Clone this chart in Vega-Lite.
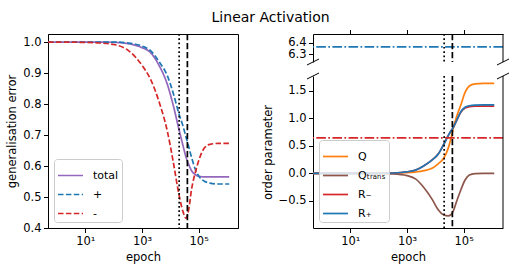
{
  "$schema": "https://vega.github.io/schema/vega-lite/v6.json",
  "padding": {"left": 6, "top": 11, "right": 5, "bottom": 5},
  "title": {"text": "Linear Activation", "fontSize": 14, "fontWeight": "normal", "font": "DejaVu Sans", "color": "black", "anchor": "middle", "dx": 12},
  "datasets": {
    "gen": [
      {"epoch": 0.48, "series": "total", "err": 1.0}, {"epoch": 10, "series": "total", "err": 1.0}, {"epoch": 31.6, "series": "total", "err": 1.0}, {"epoch": 100, "series": "total", "err": 0.999}, {"epoch": 316, "series": "total", "err": 0.995}, {"epoch": 1000, "series": "total", "err": 0.982}, {"epoch": 1995, "series": "total", "err": 0.966}, {"epoch": 3981, "series": "total", "err": 0.925}, {"epoch": 7943, "series": "total", "err": 0.862}, {"epoch": 12589, "series": "total", "err": 0.797}, {"epoch": 19953, "series": "total", "err": 0.72}, {"epoch": 28184, "series": "total", "err": 0.665}, {"epoch": 35481, "series": "total", "err": 0.63}, {"epoch": 44668, "series": "total", "err": 0.605}, {"epoch": 56234, "series": "total", "err": 0.585}, {"epoch": 79433, "series": "total", "err": 0.571}, {"epoch": 112202, "series": "total", "err": 0.566}, {"epoch": 158489, "series": "total", "err": 0.565}, {"epoch": 251189, "series": "total", "err": 0.565}, {"epoch": 501187, "series": "total", "err": 0.565}, {"epoch": 1202264, "series": "total", "err": 0.565},
      {"epoch": 0.48, "series": "+", "err": 1.0}, {"epoch": 10, "series": "+", "err": 1.0}, {"epoch": 31.6, "series": "+", "err": 1.0}, {"epoch": 100, "series": "+", "err": 1.0}, {"epoch": 316, "series": "+", "err": 0.997}, {"epoch": 1000, "series": "+", "err": 0.987}, {"epoch": 1995, "series": "+", "err": 0.972}, {"epoch": 3981, "series": "+", "err": 0.937}, {"epoch": 7943, "series": "+", "err": 0.89}, {"epoch": 12589, "series": "+", "err": 0.836}, {"epoch": 19953, "series": "+", "err": 0.77}, {"epoch": 28184, "series": "+", "err": 0.728}, {"epoch": 35481, "series": "+", "err": 0.695}, {"epoch": 44668, "series": "+", "err": 0.662}, {"epoch": 56234, "series": "+", "err": 0.628}, {"epoch": 79433, "series": "+", "err": 0.585}, {"epoch": 112202, "series": "+", "err": 0.562}, {"epoch": 158489, "series": "+", "err": 0.551}, {"epoch": 251189, "series": "+", "err": 0.545}, {"epoch": 501187, "series": "+", "err": 0.542}, {"epoch": 1202264, "series": "+", "err": 0.542},
      {"epoch": 0.48, "series": "-", "err": 1.0}, {"epoch": 10, "series": "-", "err": 0.999}, {"epoch": 31.6, "series": "-", "err": 0.997}, {"epoch": 100, "series": "-", "err": 0.992}, {"epoch": 316, "series": "-", "err": 0.974}, {"epoch": 1000, "series": "-", "err": 0.925}, {"epoch": 1995, "series": "-", "err": 0.88}, {"epoch": 3981, "series": "-", "err": 0.808}, {"epoch": 7943, "series": "-", "err": 0.71}, {"epoch": 12589, "series": "-", "err": 0.615}, {"epoch": 19953, "series": "-", "err": 0.51}, {"epoch": 28184, "series": "-", "err": 0.452}, {"epoch": 35481, "series": "-", "err": 0.432}, {"epoch": 44668, "series": "-", "err": 0.46}, {"epoch": 56234, "series": "-", "err": 0.525}, {"epoch": 79433, "series": "-", "err": 0.585}, {"epoch": 112202, "series": "-", "err": 0.63}, {"epoch": 158489, "series": "-", "err": 0.658}, {"epoch": 251189, "series": "-", "err": 0.67}, {"epoch": 501187, "series": "-", "err": 0.673}, {"epoch": 1202264, "series": "-", "err": 0.673}
    ],
    "order": [
      {"epoch": 0.48, "series": "Q", "value": 0}, {"epoch": 10, "series": "Q", "value": 0}, {"epoch": 31.6, "series": "Q", "value": 0}, {"epoch": 100, "series": "Q", "value": 0.001}, {"epoch": 316, "series": "Q", "value": 0.003}, {"epoch": 1000, "series": "Q", "value": 0.012}, {"epoch": 1995, "series": "Q", "value": 0.025}, {"epoch": 3981, "series": "Q", "value": 0.05}, {"epoch": 7943, "series": "Q", "value": 0.1}, {"epoch": 12589, "series": "Q", "value": 0.175}, {"epoch": 19953, "series": "Q", "value": 0.28}, {"epoch": 28184, "series": "Q", "value": 0.45}, {"epoch": 35481, "series": "Q", "value": 0.63}, {"epoch": 44668, "series": "Q", "value": 0.85}, {"epoch": 56234, "series": "Q", "value": 1.03}, {"epoch": 79433, "series": "Q", "value": 1.24}, {"epoch": 112202, "series": "Q", "value": 1.47}, {"epoch": 158489, "series": "Q", "value": 1.585}, {"epoch": 251189, "series": "Q", "value": 1.625}, {"epoch": 501187, "series": "Q", "value": 1.635}, {"epoch": 1202264, "series": "Q", "value": 1.635},
      {"epoch": 0.48, "series": "Qₜᵣₐₙₛ", "value": 0}, {"epoch": 10, "series": "Qₜᵣₐₙₛ", "value": 0}, {"epoch": 31.6, "series": "Qₜᵣₐₙₛ", "value": 0}, {"epoch": 100, "series": "Qₜᵣₐₙₛ", "value": -0.003}, {"epoch": 316, "series": "Qₜᵣₐₙₛ", "value": -0.01}, {"epoch": 1000, "series": "Qₜᵣₐₙₛ", "value": -0.04}, {"epoch": 1995, "series": "Qₜᵣₐₙₛ", "value": -0.1}, {"epoch": 3981, "series": "Qₜᵣₐₙₛ", "value": -0.26}, {"epoch": 7943, "series": "Qₜᵣₐₙₛ", "value": -0.48}, {"epoch": 12589, "series": "Qₜᵣₐₙₛ", "value": -0.66}, {"epoch": 19953, "series": "Qₜᵣₐₙₛ", "value": -0.755}, {"epoch": 28184, "series": "Qₜᵣₐₙₛ", "value": -0.77}, {"epoch": 35481, "series": "Qₜᵣₐₙₛ", "value": -0.75}, {"epoch": 44668, "series": "Qₜᵣₐₙₛ", "value": -0.66}, {"epoch": 56234, "series": "Qₜᵣₐₙₛ", "value": -0.51}, {"epoch": 79433, "series": "Qₜᵣₐₙₛ", "value": -0.3}, {"epoch": 112202, "series": "Qₜᵣₐₙₛ", "value": -0.12}, {"epoch": 158489, "series": "Qₜᵣₐₙₛ", "value": -0.03}, {"epoch": 251189, "series": "Qₜᵣₐₙₛ", "value": -0.003}, {"epoch": 501187, "series": "Qₜᵣₐₙₛ", "value": 0}, {"epoch": 1202264, "series": "Qₜᵣₐₙₛ", "value": 0},
      {"epoch": 0.48, "series": "R₋", "value": 0}, {"epoch": 10, "series": "R₋", "value": 0}, {"epoch": 31.6, "series": "R₋", "value": 0}, {"epoch": 100, "series": "R₋", "value": 0.002}, {"epoch": 316, "series": "R₋", "value": 0.008}, {"epoch": 1000, "series": "R₋", "value": 0.03}, {"epoch": 1995, "series": "R₋", "value": 0.06}, {"epoch": 3981, "series": "R₋", "value": 0.14}, {"epoch": 7943, "series": "R₋", "value": 0.25}, {"epoch": 12589, "series": "R₋", "value": 0.35}, {"epoch": 19953, "series": "R₋", "value": 0.53}, {"epoch": 28184, "series": "R₋", "value": 0.68}, {"epoch": 35481, "series": "R₋", "value": 0.77}, {"epoch": 44668, "series": "R₋", "value": 0.85}, {"epoch": 56234, "series": "R₋", "value": 0.955}, {"epoch": 79433, "series": "R₋", "value": 1.11}, {"epoch": 112202, "series": "R₋", "value": 1.185}, {"epoch": 158489, "series": "R₋", "value": 1.21}, {"epoch": 251189, "series": "R₋", "value": 1.22}, {"epoch": 501187, "series": "R₋", "value": 1.222}, {"epoch": 1202264, "series": "R₋", "value": 1.222},
      {"epoch": 0.48, "series": "R₊", "value": 0}, {"epoch": 10, "series": "R₊", "value": 0}, {"epoch": 31.6, "series": "R₊", "value": 0}, {"epoch": 100, "series": "R₊", "value": 0.002}, {"epoch": 316, "series": "R₊", "value": 0.008}, {"epoch": 1000, "series": "R₊", "value": 0.03}, {"epoch": 1995, "series": "R₊", "value": 0.06}, {"epoch": 3981, "series": "R₊", "value": 0.14}, {"epoch": 7943, "series": "R₊", "value": 0.25}, {"epoch": 12589, "series": "R₊", "value": 0.35}, {"epoch": 19953, "series": "R₊", "value": 0.53}, {"epoch": 28184, "series": "R₊", "value": 0.68}, {"epoch": 35481, "series": "R₊", "value": 0.77}, {"epoch": 44668, "series": "R₊", "value": 0.85}, {"epoch": 56234, "series": "R₊", "value": 0.96}, {"epoch": 79433, "series": "R₊", "value": 1.12}, {"epoch": 112202, "series": "R₊", "value": 1.2}, {"epoch": 158489, "series": "R₊", "value": 1.228}, {"epoch": 251189, "series": "R₊", "value": 1.24}, {"epoch": 501187, "series": "R₊", "value": 1.242}, {"epoch": 1202264, "series": "R₊", "value": 1.242}
    ],
    "vdot": [{"epoch": 20500}],
    "vdash": [{"epoch": 40000}],
    "htop": [{"value": 6.366}],
    "hbot": [{"value": 0.645}],
    "one": [{}]
  },
  "hconcat": [
    {
      "width": 190,
      "height": 194,
      "view": {"stroke": "black", "strokeWidth": 1},
      "layer": [
        {
          "data": {"name": "gen"},
          "mark": {"type": "line", "strokeWidth": 1.7, "interpolate": "monotone"},
          "encoding": {
            "x": {"field": "epoch", "type": "quantitative", "scale": {"type": "log", "domain": [0.48, 2450000], "nice": false},
                  "axis": {"title": "epoch", "values": [10, 1000, 100000], "labelOverlap": false, "labelExpr": "datum.value == 10 ? '10¹' : datum.value == 1000 ? '10³' : '10⁵'"}},
            "y": {"field": "err", "type": "quantitative", "scale": {"domain": [0.4, 1.026], "nice": false, "zero": false},
                  "axis": {"title": "generalisation error", "values": [0.4, 0.5, 0.6, 0.7, 0.8, 0.9, 1.0], "format": ".1f", "labelOverlap": false}},
            "color": {"field": "series", "type": "nominal", "scale": {"domain": ["total", "+", "-"], "range": ["#9467bd", "#1f77b4", "#d62728"]},
                      "legend": {"title": null, "orient": "bottom-left", "offset": 6}},
            "strokeDash": {"field": "series", "type": "nominal", "scale": {"domain": ["total", "+", "-"], "range": [[1, 0], [5.5, 2.4], [5.5, 2.4]]},
                      "legend": {"title": null, "orient": "bottom-left", "offset": 6}}
          }
        },
        {
          "data": {"name": "vdot"},
          "mark": {"type": "rule", "color": "black", "strokeWidth": 1.7, "strokeDash": [1.7, 2.6]},
          "encoding": {"x": {"field": "epoch", "type": "quantitative"}}
        },
        {
          "data": {"name": "vdash"},
          "mark": {"type": "rule", "color": "black", "strokeWidth": 1.7, "strokeDash": [6.3, 2.7]},
          "encoding": {"x": {"field": "epoch", "type": "quantitative"}}
        }
      ]
    },
    {
      "vconcat": [
        {
          "width": 190,
          "height": 28,
          "layer": [
            {
              "data": {"name": "htop"},
              "mark": {"type": "rule", "color": "#1f77b4", "strokeWidth": 1.7, "strokeDash": [9.6, 2.4, 1.7, 2.4]},
              "encoding": {
                "y": {"field": "value", "type": "quantitative", "scale": {"domain": [6.234, 6.477], "nice": false, "zero": false},
                      "axis": {"title": null, "values": [6.3, 6.4], "format": ".1f", "labelOverlap": false}}
              }
            },
            {
              "data": {"name": "vdot"},
              "mark": {"type": "rule", "color": "black", "strokeWidth": 1.7, "strokeDash": [1.7, 2.6]},
              "encoding": {"x": {"field": "epoch", "type": "quantitative", "scale": {"type": "log", "domain": [0.48, 2450000], "nice": false},
                  "axis": {"orient": "top", "title": null, "labels": false, "values": [10, 1000, 100000]}}}
            },
            {
              "data": {"name": "vdash"},
              "mark": {"type": "rule", "color": "black", "strokeWidth": 1.7, "strokeDash": [6.3, 2.7]},
              "encoding": {"x": {"field": "epoch", "type": "quantitative"}}
            },
            {
              "data": {"name": "one"},
              "mark": {"type": "rule", "color": "black", "strokeWidth": 1},
              "encoding": {"x": {"datum": 2450000}}
            },
            {
              "data": {"name": "one"},
              "mark": {"type": "point", "shape": "M-1,0.5L1,-0.5", "size": 144, "filled": false, "stroke": "black", "strokeWidth": 1, "opacity": 1, "clip": false},
              "encoding": {"x": {"datum": 0.48}, "y": {"datum": 6.234}}
            },
            {
              "data": {"name": "one"},
              "mark": {"type": "point", "shape": "M-1,0.5L1,-0.5", "size": 144, "filled": false, "stroke": "black", "strokeWidth": 1, "opacity": 1, "clip": false},
              "encoding": {"x": {"datum": 2450000}, "y": {"datum": 6.234}}
            }
          ]
        },
        {
          "width": 190,
          "height": 152,
          "layer": [
            {
              "data": {"name": "order"},
              "transform": [{"filter": "datum.series != 'R₊'"}],
              "mark": {"type": "line", "strokeWidth": 1.7, "interpolate": "monotone"},
              "encoding": {
                "x": {"field": "epoch", "type": "quantitative", "scale": {"type": "log", "domain": [0.48, 2450000], "nice": false},
                      "axis": {"title": "epoch", "values": [10, 1000, 100000], "labelOverlap": false, "labelExpr": "datum.value == 10 ? '10¹' : datum.value == 1000 ? '10³' : '10⁵'"}},
                "y": {"field": "value", "type": "quantitative", "scale": {"domain": [-0.99, 1.767], "nice": false, "zero": false},
                      "axis": {"title": "order parameter", "tickCount": 6, "format": ".1f", "labelOverlap": false, "labelSeparation": 0}},
                "color": {"field": "series", "type": "nominal", "scale": {"domain": ["Q", "Qₜᵣₐₙₛ", "R₋", "R₊"], "range": ["#ff7f0e", "#8c564b", "#d62728", "#1f77b4"]},
                          "legend": {"title": null, "orient": "bottom-left", "offset": 6}}
              }
            },
            {
              "data": {"name": "order"},
              "transform": [{"filter": "datum.series == 'R₊'"}],
              "mark": {"type": "line", "strokeWidth": 1.7, "interpolate": "monotone"},
              "encoding": {
                "x": {"field": "epoch", "type": "quantitative"},
                "y": {"field": "value", "type": "quantitative"},
                "color": {"field": "series", "type": "nominal"}
              }
            },
            {
              "data": {"name": "hbot"},
              "mark": {"type": "rule", "color": "#d62728", "strokeWidth": 1.7, "strokeDash": [9.6, 2.4, 1.7, 2.4]},
              "encoding": {"y": {"field": "value", "type": "quantitative"}}
            },
            {
              "data": {"name": "vdot"},
              "mark": {"type": "rule", "color": "black", "strokeWidth": 1.7, "strokeDash": [1.7, 2.6]},
              "encoding": {"x": {"field": "epoch", "type": "quantitative"}}
            },
            {
              "data": {"name": "vdash"},
              "mark": {"type": "rule", "color": "black", "strokeWidth": 1.7, "strokeDash": [6.3, 2.7]},
              "encoding": {"x": {"field": "epoch", "type": "quantitative"}}
            },
            {
              "data": {"name": "one"},
              "mark": {"type": "rule", "color": "black", "strokeWidth": 1},
              "encoding": {"x": {"datum": 2450000}}
            },
            {
              "data": {"name": "one"},
              "mark": {"type": "point", "shape": "M-1,0.5L1,-0.5", "size": 144, "filled": false, "stroke": "black", "strokeWidth": 1, "opacity": 1, "clip": false},
              "encoding": {"x": {"datum": 0.48}, "y": {"datum": 1.767}}
            },
            {
              "data": {"name": "one"},
              "mark": {"type": "point", "shape": "M-1,0.5L1,-0.5", "size": 144, "filled": false, "stroke": "black", "strokeWidth": 1, "opacity": 1, "clip": false},
              "encoding": {"x": {"datum": 2450000}, "y": {"datum": 1.767}}
            }
          ]
        }
      ],
      "spacing": 14,
      "bounds": "flush",
      "resolve": {"scale": {"color": "independent"}, "legend": {"color": "independent"}}
    }
  ],
  "spacing": 75,
  "bounds": "flush",
  "resolve": {"scale": {"color": "independent", "strokeDash": "independent"}, "legend": {"color": "independent", "strokeDash": "independent"}},
  "config": {
    "font": "DejaVu Sans",
    "view": {"stroke": null},
    "axis": {
      "labelFont": "DejaVu Sans", "labelFontSize": 11.5, "labelColor": "black",
      "titleFont": "DejaVu Sans", "titleFontSize": 11.5, "titleFontWeight": "normal", "titleColor": "black",
      "tickColor": "black", "domainColor": "black", "grid": false, "tickSize": 4.5, "labelPadding": 2.5, "titlePadding": 5,
      "domainWidth": 1, "tickWidth": 1, "labelOverlap": false
    },
    "legend": {
      "labelFont": "DejaVu Sans", "labelFontSize": 11, "labelColor": "black",
      "symbolType": "stroke", "symbolStrokeWidth": 1.7, "symbolSize": 625, "labelOffset": 9,
      "strokeColor": "#cccccc", "fillColor": "rgba(255,255,255,0.8)", "cornerRadius": 3, "padding": 3, "rowPadding": -2
    }
  }
}
